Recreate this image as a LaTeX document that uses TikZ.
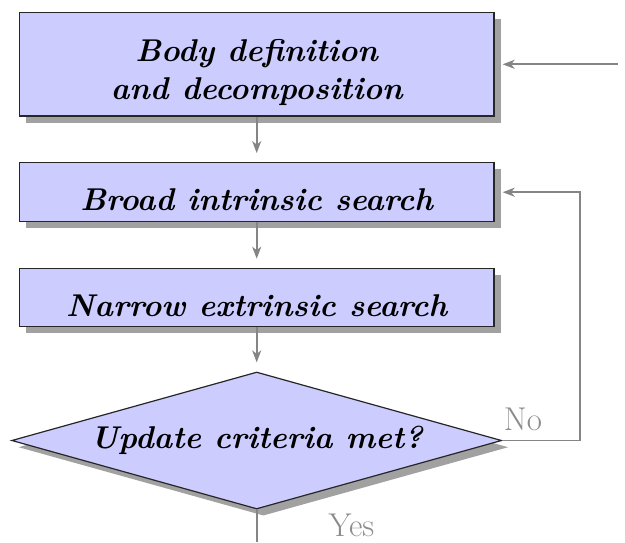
\documentclass[tikz,border=0pt]{standalone}
\usetikzlibrary{shapes.geometric,shadows,arrows.meta}
\begin{document}
\begin{tikzpicture}[x=1pt,y=-1pt,
  stepbox/.style={draw=black!85, line width=1.2pt, fill=blue!20, rectangle,
    minimum width=474.7pt, inner sep=0pt, align=center,
    font=\fontsize{31.5}{37.3}\selectfont\bfseries\itshape,
    drop shadow={shadow xshift=6.7pt, shadow yshift=-6.7pt, fill=black!37, opacity=1}},
  decision/.style={draw=black!85, line width=1.2pt, fill=blue!20, diamond,
    minimum width=490pt, minimum height=137pt, inner sep=0pt, aspect=3.58,
    font=\fontsize{31.5}{42}\selectfont\bfseries\itshape,
    drop shadow={shadow xshift=6.7pt, shadow yshift=-6.7pt, fill=black!37, opacity=1}},
  conn/.style={draw=black!48, line width=1.8pt, -{Stealth[length=12pt,width=9pt,inset=3.5pt]}},
  lbl/.style={text=black!45, font=\fontsize{33}{40}\selectfont, inner sep=0pt, anchor=base}
]
\useasboundingbox (0,0) rectangle (625,542);
\node[stepbox, minimum height=103.3pt, text height=70pt, text depth=0.6pt] (body) at (256.7,64.3) {Body definition\\and decomposition};
\node[stepbox, minimum height=59pt, text height=37pt, text depth=0pt] (broad) at (256.7,192.2) {Broad intrinsic search};
\node[stepbox, minimum height=58.4pt, text height=38.4pt, text depth=0pt] (narrow) at (256.7,297.5) {Narrow extrinsic search};
\node[decision] (dec) at (256.7,440.5) {Update criteria met?};
\coordinate (in) at (618,64.3);
\coordinate (out) at (256.7,542);
\coordinate (corner) at (580,440.5);
\draw[conn, shorten >=8pt] (in) -- (body.east);
\draw[conn, shorten >=9pt] (body.south) -- (broad.north);
\draw[conn, shorten >=9pt] (broad.south) -- (narrow.north);
\draw[conn, shorten >=9pt] (narrow.south) -- (dec.north);
\draw[conn, shorten >=8pt] (dec.east) -- (corner) |- (broad.east);
\draw[draw=black!48, line width=1.8pt] (dec.south) -- (out);
\node[lbl] (no) at (523,430) {No};
\node[lbl] (yes) at (351.5,536.5) {Yes};
\end{tikzpicture}
\end{document}
